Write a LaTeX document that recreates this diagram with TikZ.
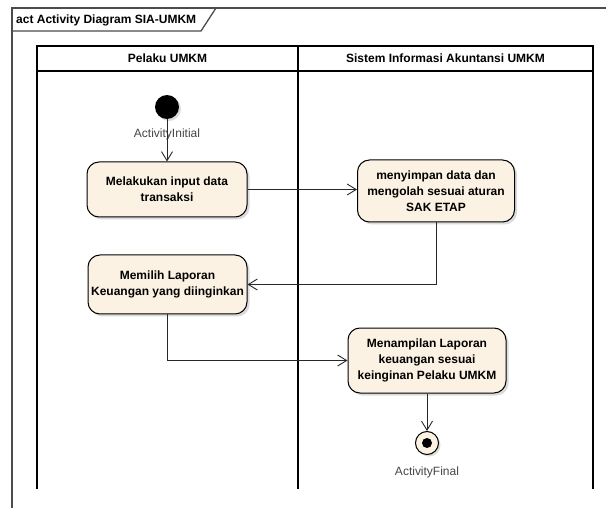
\documentclass[tikz,border=0pt]{standalone}
\usepackage{fontspec}
\setmainfont{Liberation Sans}
\usetikzlibrary{arrows.meta,shadows,calc}
\definecolor{cream}{RGB}{252,242,227}
\definecolor{lbl}{RGB}{70,70,70}
\definecolor{conn}{RGB}{40,40,40}
\begin{document}
\begin{tikzpicture}[x=1pt,y=-1pt,
  actbox/.style={draw=black,line width=1pt,fill=cream,rounded corners=12pt,
    drop shadow={shadow xshift=2.5pt,shadow yshift=-2.5pt,fill=gray!55},
    align=center,font=\fontsize{12}{16}\selectfont\bfseries,inner sep=0pt},
  hdr/.style={font=\fontsize{12}{14}\selectfont\bfseries,inner sep=0pt},
  flow/.style={draw=conn,line width=0.9pt,-{Straight Barb[length=9pt,width=11pt,line width=0.9pt]}},
  lane/.style={draw=black,line width=1.4pt},
  frm/.style={draw=black!70,line width=1.3pt},
  caplbl/.style={font=\fontsize{12}{14}\selectfont,text=lbl,inner sep=0pt}
]
\useasboundingbox (0,0) rectangle (606,508);
\fill[white] (0,0) rectangle (606,508);
% frame
\draw[frm] (12,508) -- (12,8) -- (606,8);
\draw[frm] (12,31) -- (201,31) -- (216,8);
\node[font=\fontsize{12}{14}\selectfont\bfseries,anchor=west,inner sep=0pt] (title) at (16,20) {act Activity Diagram SIA-UMKM};
% lanes
\draw[lane] (37,489) -- (37,46) -- (593,46) -- (593,489);
\draw[lane] (37,71) -- (593,71);
\draw[lane] (298,46) -- (298,489);
\node[hdr] (h1) at (167.5,58.5) {Pelaku UMKM};
\node[hdr] (h2) at (445.5,58.5) {Sistem Informasi Akuntansi UMKM};
% nodes
\node[circle,fill=black,minimum size=24pt,inner sep=0pt,
  drop shadow={shadow xshift=2pt,shadow yshift=-2pt,fill=gray!55}] (init) at (167,107) {};
\node[caplbl] (initlbl) at (167,134) {ActivityInitial};
\node[actbox,minimum width=160pt,minimum height=55pt] (a1) at (167,189.5) {Melakukan input data\\transaksi};
\node[actbox,minimum width=157pt,minimum height=62pt] (a2) at (436,191) {menyimpan data dan\\mengolah sesuai aturan\\SAK ETAP};
\node[actbox,minimum width=159pt,minimum height=59pt] (a3) at (167.5,284.5) {Memilih Laporan\\Keuangan yang diinginkan};
\node[actbox,minimum width=158pt,minimum height=65pt] (a4) at (427,360.5) {Menampilan Laporan\\keuangan sesuai\\keinginan Pelaku UMKM};
\node[circle,draw=black,line width=1pt,fill=cream,minimum size=23pt,inner sep=0pt,
  drop shadow={shadow xshift=2pt,shadow yshift=-2pt,fill=gray!55}] (fin) at (427,443) {};
\fill[black] (fin.center) circle (5pt);
\node[caplbl] (finlbl) at (427,472) {ActivityFinal};
% connectors
\draw[flow] (init) -- (a1);
\draw[flow] (a1.east) -- (a1.east -| a2.west);
\draw[flow] (a2.south) |- (a3.east);
\draw[flow] (a3.south) |- (a4.west);
\draw[flow] (a4.south) -- (fin);
\end{tikzpicture}
\end{document}
